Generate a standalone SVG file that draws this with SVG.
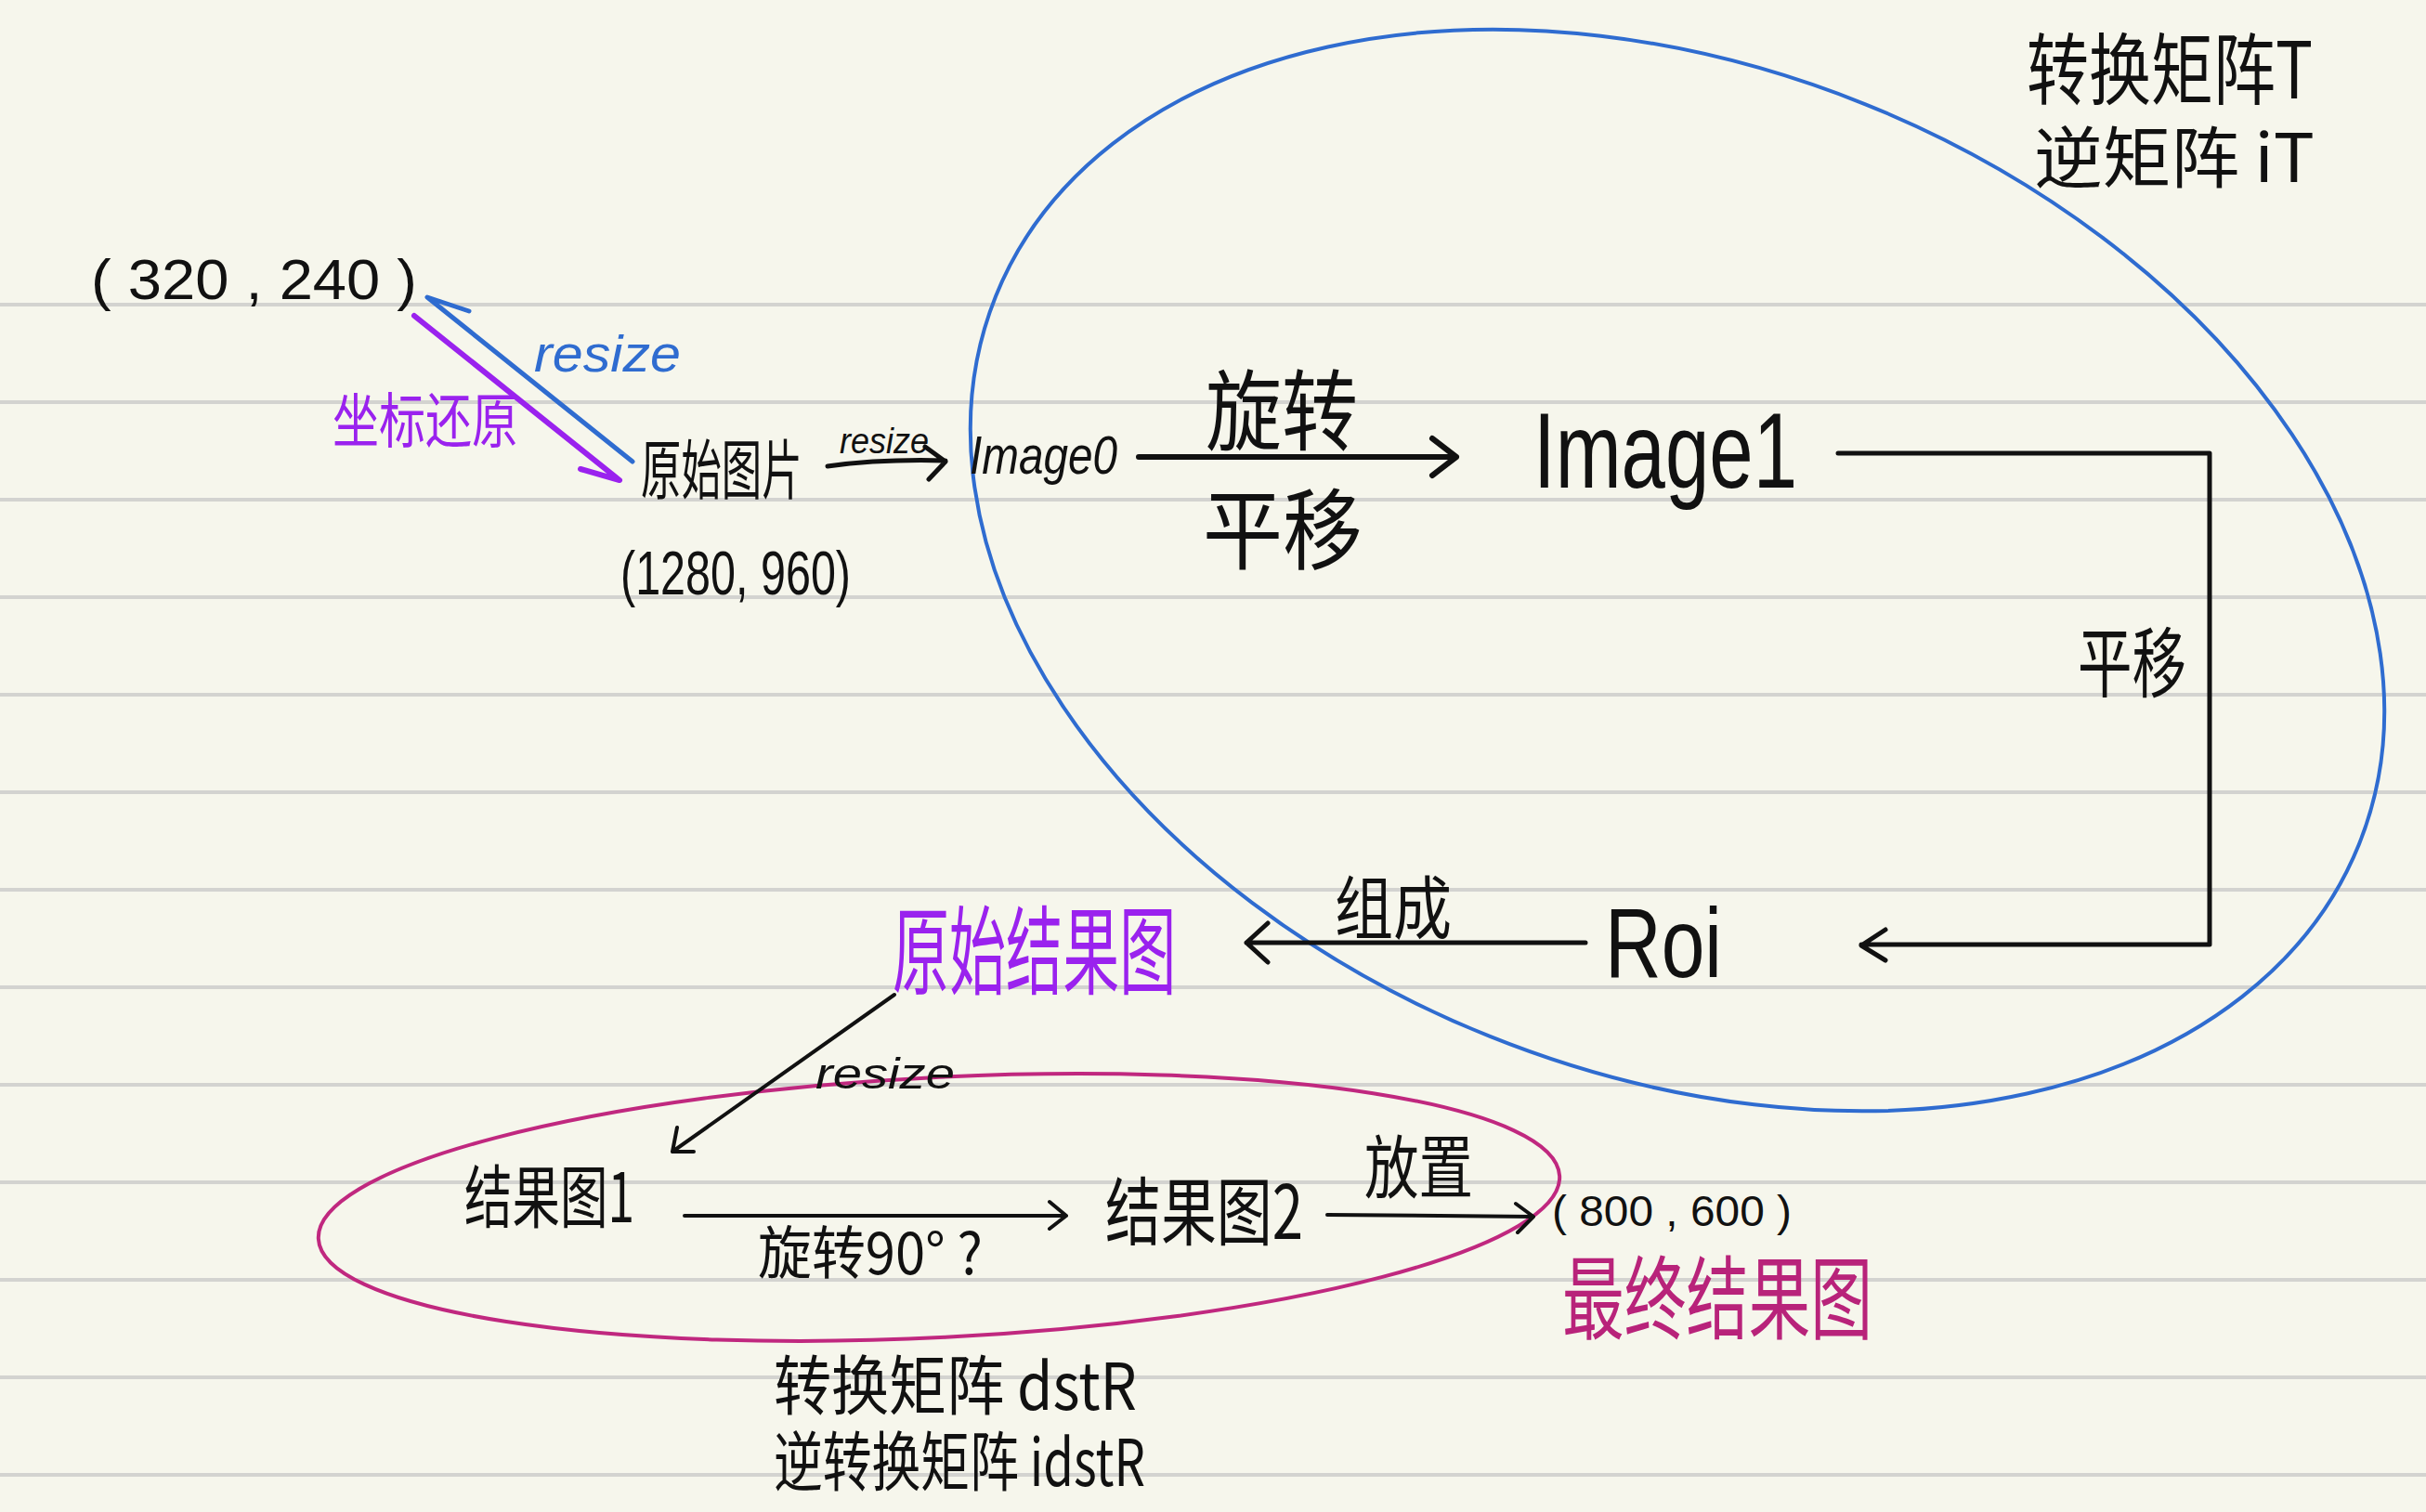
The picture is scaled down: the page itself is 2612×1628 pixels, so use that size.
<svg xmlns="http://www.w3.org/2000/svg" width="2612" height="1628" viewBox="0 0 2612 1628">
<style>
.rule{stroke:#d3d3d0;stroke-width:4}
.t{font-family:"Noto Sans CJK SC","Noto Sans",sans-serif;fill:#111}
.l{font-family:"Liberation Sans","Noto Sans",sans-serif;fill:#111}
.it{font-style:italic}
.ln{fill:none;stroke:#111;stroke-width:5;stroke-linecap:round;stroke-linejoin:round}
.blue{fill:#2f6cd0}
.purple{fill:#9a22ee}
.mag{fill:#b8237a}
</style>
<rect width="2612" height="1628" fill="#f6f6ec"/>
<g id="ruling">
<line class="rule" x1="0" y1="328" x2="2612" y2="328"/>
<line class="rule" x1="0" y1="433" x2="2612" y2="433"/>
<line class="rule" x1="0" y1="538" x2="2612" y2="538"/>
<line class="rule" x1="0" y1="643" x2="2612" y2="643"/>
<line class="rule" x1="0" y1="748" x2="2612" y2="748"/>
<line class="rule" x1="0" y1="853" x2="2612" y2="853"/>
<line class="rule" x1="0" y1="958" x2="2612" y2="958"/>
<line class="rule" x1="0" y1="1063" x2="2612" y2="1063"/>
<line class="rule" x1="0" y1="1168" x2="2612" y2="1168"/>
<line class="rule" x1="0" y1="1273" x2="2612" y2="1273"/>
<line class="rule" x1="0" y1="1378" x2="2612" y2="1378"/>
<line class="rule" x1="0" y1="1483" x2="2612" y2="1483"/>
<line class="rule" x1="0" y1="1588" x2="2612" y2="1588"/>
</g>
<g id="ellipses">
<ellipse cx="1806" cy="614" rx="791" ry="541" transform="rotate(21.9 1806 614)" fill="none" stroke="#2f6cd0" stroke-width="4"/>
<ellipse cx="1011" cy="1300" rx="669" ry="140" transform="rotate(-2.9 1011 1300)" fill="none" stroke="#c0287f" stroke-width="4"/>
</g>
<g id="connectors">
<path class="ln" d="M681,497 L460,320 L505,335" style="stroke:#2f6cd0;stroke-width:5"/>
<path class="ln" d="M446,340 L667,517 L625,505" style="stroke:#9a22ee;stroke-width:6"/>
<path class="ln" d="M891,502 Q950,494 1018,496 M996,481 L1018,497 L1000,516"/>
<path class="ln" d="M1226,492 L1568,492 M1542,472 L1568,492 L1542,512" style="stroke-width:6"/>
<path class="ln" d="M1979,488 L2379,488 L2379,1017 L2004,1017 M2030,1001 L2004,1018 L2030,1034" style="stroke-width:5"/>
<path class="ln" d="M1707,1015 L1342,1015 M1365,994 L1342,1015 L1365,1036"/>
<path class="ln" d="M963,1071 L724,1240 M729,1214 L724,1240 L747,1240" style="stroke-width:4"/>
<path class="ln" d="M737,1309 L1148,1309 M1130,1294 L1148,1309 L1130,1323" style="stroke-width:4"/>
<path class="ln" d="M1429,1308 L1651,1310 M1632,1296 L1651,1310 L1634,1327" style="stroke-width:4"/>
</g>
<g id="node-320">
<text class="l" x="98" y="322" font-size="62" textLength="351" lengthAdjust="spacingAndGlyphs">( 320 , 240 )</text>
</g>
<g id="label-resize-blue">
<text class="l it blue" x="575" y="400" font-size="55" textLength="158" lengthAdjust="spacingAndGlyphs">resize</text>
</g>
<g id="label-restore">
<text class="t purple" x="358" y="476" font-size="64" textLength="200" lengthAdjust="spacingAndGlyphs">坐标还原</text>
</g>
<g id="node-original">
<text class="t" transform="translate(690 532) scale(0.62 1)" font-size="70">原始图片</text>
<text class="l" x="668" y="640" font-size="66" textLength="248" lengthAdjust="spacingAndGlyphs">(1280, 960)</text>
</g>
<g id="label-resize-1">
<text class="l it" x="904" y="488" font-size="38" textLength="96" lengthAdjust="spacingAndGlyphs">resize</text>
</g>
<g id="node-image0">
<text class="l it" x="1044" y="510" font-size="58" textLength="159" lengthAdjust="spacingAndGlyphs">Image0</text>
</g>
<g id="label-rotate-translate">
<text class="t" x="1298" y="478" font-size="95" textLength="164" lengthAdjust="spacingAndGlyphs">旋转</text>
<text class="t" x="1295" y="606" font-size="95" textLength="172" lengthAdjust="spacingAndGlyphs">平移</text>
</g>
<g id="node-image1">
<text class="l" x="1651" y="525" font-size="115" textLength="284" lengthAdjust="spacingAndGlyphs">Image1</text>
</g>
<g id="label-translate-right">
<text class="t" x="2237" y="744" font-size="82" textLength="117" lengthAdjust="spacingAndGlyphs">平移</text>
</g>
<g id="node-roi">
<text class="l" x="1728" y="1052" font-size="105" textLength="126" lengthAdjust="spacingAndGlyphs">Roi</text>
</g>
<g id="label-compose">
<text class="t" x="1437" y="1005" font-size="74" textLength="126" lengthAdjust="spacingAndGlyphs">组成</text>
</g>
<g id="node-original-result">
<text class="t purple" transform="translate(961 1063) scale(0.587 1)" font-size="104">原始结果图</text>
</g>
<g id="label-resize-2">
<text class="l it" x="878" y="1172" font-size="46" textLength="150" lengthAdjust="spacingAndGlyphs">resize</text>
</g>
<g id="node-result1">
<text class="t" x="500" y="1316" font-size="74" textLength="183" lengthAdjust="spacingAndGlyphs">结果图1</text>
</g>
<g id="label-rotate90">
<text class="t" x="816" y="1372" font-size="62" textLength="242" lengthAdjust="spacingAndGlyphs">旋转90° ?</text>
</g>
<g id="node-result2">
<text class="t" x="1190" y="1334" font-size="80" textLength="213" lengthAdjust="spacingAndGlyphs">结果图2</text>
</g>
<g id="label-place">
<text class="t" x="1469" y="1284" font-size="74" textLength="117" lengthAdjust="spacingAndGlyphs">放置</text>
</g>
<g id="node-final">
<text class="l" x="1671" y="1320" font-size="46" textLength="258" lengthAdjust="spacingAndGlyphs">( 800 , 600 )</text>
<text class="t mag" x="1682" y="1434" font-size="98" textLength="334" lengthAdjust="spacingAndGlyphs">最终结果图</text>
</g>
<g id="note-bottom">
<text class="t" x="833" y="1518" font-size="70" textLength="391" lengthAdjust="spacingAndGlyphs">转换矩阵 dstR</text>
<text class="t" x="833" y="1600" font-size="70" textLength="400" lengthAdjust="spacingAndGlyphs">逆转换矩阵 idstR</text>
</g>
<g id="note-top">
<text class="t" x="2182" y="106" font-size="84" textLength="308" lengthAdjust="spacingAndGlyphs">转换矩阵T</text>
<text class="t" x="2190" y="196" font-size="72" textLength="302" lengthAdjust="spacingAndGlyphs">逆矩阵 iT</text>
</g>
</svg>
